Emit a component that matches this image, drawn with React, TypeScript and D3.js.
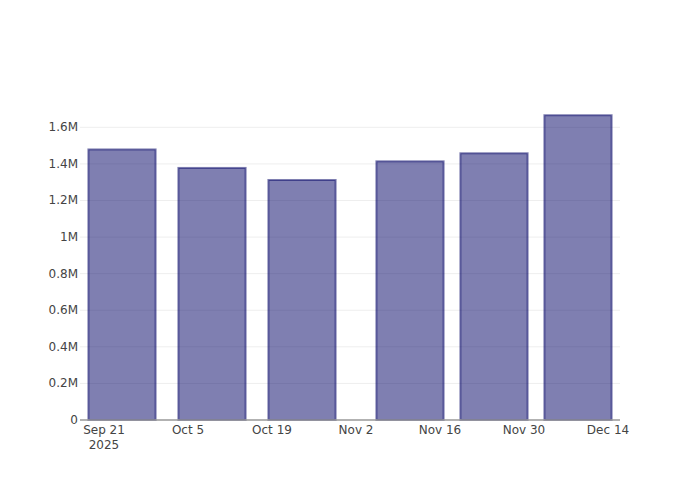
import React from "react";
import * as d3 from "d3";

const dates = ["2025-09-24", "2025-10-09", "2025-10-24", "2025-11-11", "2025-11-25", "2025-12-09"];
const values = [1479000, 1378000, 1312000, 1414000, 1458000, 1666000];
const tickDates = ["2025-09-21", "2025-10-05", "2025-10-19", "2025-11-02", "2025-11-16", "2025-11-30", "2025-12-14"];
const yTicks = [0, 200000, 400000, 600000, 800000, 1000000, 1200000, 1400000, 1600000];
const yearLabel = "2025";

const W = 700, H = 500;
const M = { l: 80, r: 80, t: 100, b: 80 };
const DAY = 86400000;

export default function App() {
  const parsed = dates.map((d) => new Date(d + "T00:00:00Z").getTime());
  const x = d3
    .scaleLinear()
    .domain([parsed[0] - 7 * DAY, parsed[parsed.length - 1] + 7 * DAY])
    .range([M.l, W - M.r]);
  const yMax = (d3.max(values) as number) * 1.05;
  const y = d3.scaleLinear().domain([0, yMax]).range([H - M.b, M.t]);
  const bw = x(parsed[0] + 14 * DAY * 0.8) - x(parsed[0]);
  const fmtY = (v: number) => (v === 0 ? "0" : d3.format("~g")(v / 1e6) + "M");
  const fmtX = d3.utcFormat("%b %-d");
  const font = "'DejaVu Sans', sans-serif";
  const firstTick = new Date(tickDates[0] + "T00:00:00Z").getTime();

  return (
    <svg width={W} height={H} style={{ position: "absolute", left: 0, top: 0 }}>
      <rect width={W} height={H} fill="#fff" />
      {yTicks.slice(1).map((t) => (
        <line key={t} x1={M.l} x2={W - M.r} y1={y(t)} y2={y(t)} stroke="#eee" strokeWidth={1} />
      ))}
      {parsed.map((d, i) => (
        <rect
          key={i}
          x={x(d) - bw / 2}
          y={y(values[i])}
          width={bw}
          height={y(0) - y(values[i])}
          fill="rgb(0,0,100)"
          fillOpacity={0.5}
          stroke="rgb(0,0,100)"
          strokeOpacity={0.5}
          strokeWidth={2}
        />
      ))}
      <line x1={M.l} x2={W - M.r} y1={y(0)} y2={y(0)} stroke="#999" strokeWidth={1.5} />
      {yTicks.map((t) => (
        <text key={t} x={M.l - 2} y={y(t) + 4} textAnchor="end" fontSize={12} fill="#444" fontFamily={font}>
          {fmtY(t)}
        </text>
      ))}
      {tickDates.map((t) => {
        const tv = new Date(t + "T00:00:00Z").getTime();
        return (
          <text key={t} x={x(tv)} y={434} textAnchor="middle" fontSize={12} fill="#444" fontFamily={font}>
            {fmtX(new Date(tv))}
          </text>
        );
      })}
      <text x={x(firstTick)} y={449} textAnchor="middle" fontSize={12} fill="#444" fontFamily={font}>
        {yearLabel}
      </text>
    </svg>
  );
}
